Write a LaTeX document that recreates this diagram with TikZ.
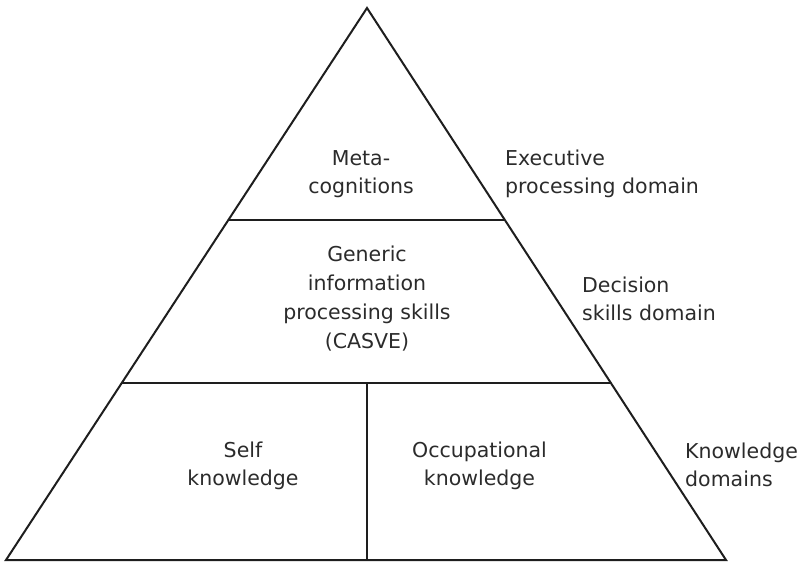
\documentclass[tikz,border=0pt]{standalone}
\usepackage{fontspec}
\setmainfont{DejaVu Sans}
\usetikzlibrary{calc}
\definecolor{ink}{HTML}{1E1E1E}
\definecolor{txt}{HTML}{2B2B2B}
\begin{document}
\begin{tikzpicture}[x=1pt,y=-1pt,
  edge/.style={draw=ink,line width=2pt,line join=miter},
  lbl/.style={text=txt,font=\fontsize{20.5}{28.5}\selectfont,inner sep=0pt,align=center},
  side/.style={lbl,align=left,anchor=west}]
\useasboundingbox (0,0) rectangle (803,562);
\coordinate (A) at (367,8);
\coordinate (BL) at (6,560);
\coordinate (BR) at (726,560);
\coordinate (L1) at ($(A)!0.38406!(BL)$);
\coordinate (R1) at ($(A)!0.38406!(BR)$);
\coordinate (L2) at ($(A)!0.67935!(BL)$);
\coordinate (R2) at ($(A)!0.67935!(BR)$);
\coordinate (M2) at (367,383);
\coordinate (MB) at (367,560);
\draw[edge] (A) -- (BR) -- (BL) -- cycle;
\draw[edge] (L1) -- (R1);
\draw[edge] (L2) -- (R2);
\draw[edge] (M2) -- (MB);
\node[lbl] (meta) at (361,174) {Meta-\\cognitions};
\node[lbl,font=\fontsize{20.5}{29}\selectfont] (gen) at (367,298.5) {Generic\\information\\processing skills\\(CASVE)};
\node[lbl] (self) at (243,466) {Self\\knowledge};
\node[lbl] (occ) at (479.5,466) {Occupational\\knowledge};
\node[side] (exec) at (505,174) {Executive\\processing domain};
\node[side] (dec) at (582,299) {Decision\\skills domain};
\node[side] (kd) at (685,465) {Knowledge\\domains};
\end{tikzpicture}
\end{document}
